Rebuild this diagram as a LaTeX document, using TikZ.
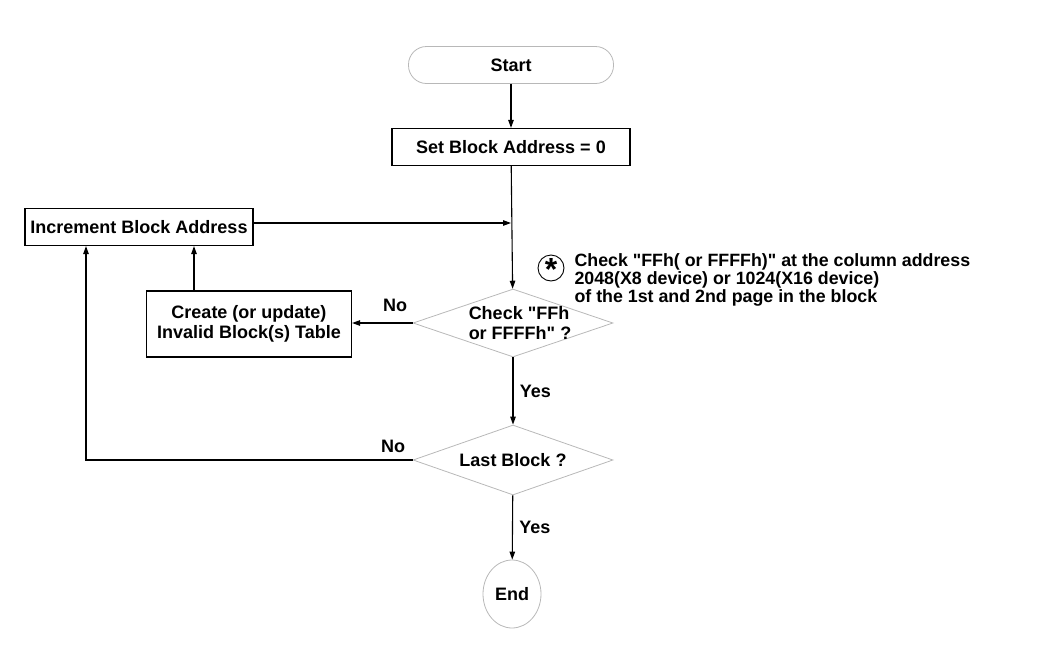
\documentclass[tikz,border=0pt]{standalone}
\usepackage{fontspec}
\setmainfont{Liberation Sans}[Ligatures=TeXOff]
\usetikzlibrary{shapes.geometric,arrows.meta}

\begin{document}
\begin{tikzpicture}[x=1pt,y=-1pt,
    font=\fontsize{18}{20}\selectfont\bfseries,
    box/.style={draw, line width=1.2pt, inner sep=0pt},
    term/.style={draw=black!28, line width=0.8pt},
    dec/.style={term, shape=diamond, minimum width=200pt, minimum height=68pt, inner sep=0pt},
    arr/.style={-{Triangle[length=8pt,width=5.5pt]}, line width=1.1pt}]
      \useasboundingbox (0,0) rectangle (1047,646);
      \node[term, rounded corners=18pt, minimum width=205pt, minimum height=37pt, text depth=0pt] (start) at (511,65) {Start};
      \node[box, minimum width=238pt, minimum height=37pt] (set) at (511,147) {Set Block Address = 0};
      \node[box, minimum width=228pt, minimum height=37pt] (inc) at (139,227) {Increment Block Address};
      \node[dec, label={[align=left, xshift=7pt]center:Check "FFh\\or FFFFh" ?}] (chk) at (513,323) {};
      \node[box, minimum width=205pt, minimum height=66pt, align=center] (crt) at (249,324) {Create (or update)\\Invalid Block(s) Table};
      \node[dec, minimum height=70pt, label=center:Last Block ?] (last) at (513,460) {};
      \node[term, ellipse, minimum width=58pt, minimum height=68pt, inner sep=0pt] (end) at (512,594) {End};
      \node[draw, circle, line width=0.9pt, minimum size=26pt, inner sep=0pt] (star) at (551,268) {\fontsize{32}{32}\selectfont\raisebox{-12pt}[0pt][0pt]{*}};
      \node[anchor=north west, align=left, font=\fontsize{17.8}{18}\selectfont\bfseries] (note) at (571,250)
        {Check "FFh( or FFFFh)" at the column address\\2048(X8 device) or 1024(X16 device)\\of the 1st and 2nd page in the block};
      \node (no1) at (395,305) {No};
      \node (no2) at (393,446) {No};
      \coordinate (j) at (511,223);
      \coordinate (k) at (86,460);
      % main flow
      \draw[arr] (start) -- (set);
      \draw[arr] (set) -- (chk);
      \draw[arr] (chk) -- node[right, xshift=3pt] (yes1) {Yes} (last);
      \draw[arr] (last) -- node[right, xshift=3pt] (yes2) {Yes} (end);
      % loops back
      \draw[arr] (inc.east |- j) -- (j);
      \draw[arr] (chk.west) -- (chk.west -| crt.east);
      \draw[arr] ([xshift=-55pt]crt.north) -- ([xshift=-55pt]crt.north |- inc.south);
      \draw[arr] (last.west) -- (k) -- (k |- inc.south);
\end{tikzpicture}
\end{document}
